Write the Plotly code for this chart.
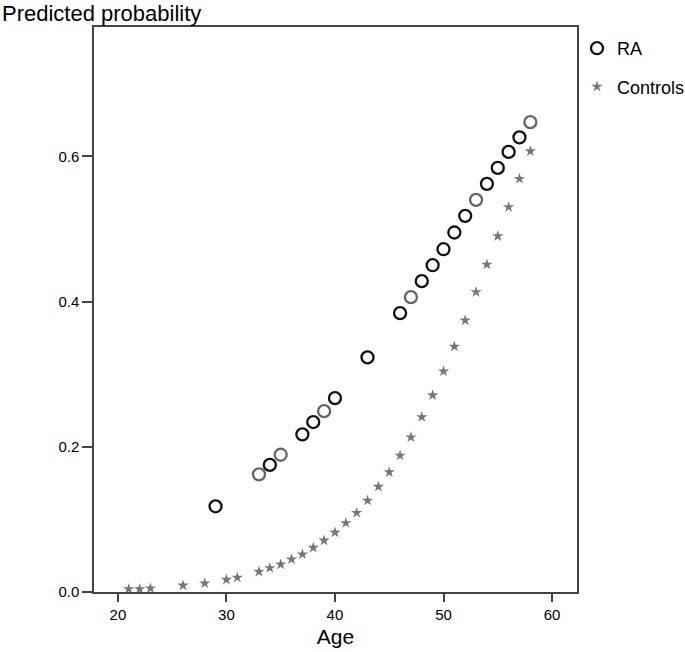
import plotly.graph_objects as go

# Data
ra_age = [29, 33, 34, 35, 37, 38, 39, 40, 43, 46, 47, 48, 49, 50, 51, 52, 53, 54, 55, 56, 57, 58]
ra_prob = [0.118, 0.162, 0.175, 0.189, 0.217, 0.234, 0.249, 0.267, 0.323, 0.384, 0.406, 0.428,
           0.450, 0.472, 0.495, 0.518, 0.540, 0.562, 0.584, 0.606, 0.626, 0.647]

ctrl_age = [21, 22, 23, 26, 28, 30, 31, 33, 34, 35, 36, 37, 38, 39, 40, 41, 42, 43, 44, 45,
            46, 47, 48, 49, 50, 51, 52, 53, 54, 55, 56, 57, 58]
ctrl_prob = [0.004, 0.004, 0.005, 0.009, 0.012, 0.017, 0.020, 0.028, 0.033, 0.038, 0.045, 0.052,
             0.061, 0.071, 0.082, 0.095, 0.109, 0.126, 0.145, 0.165, 0.188, 0.213, 0.241, 0.271,
             0.304, 0.338, 0.374, 0.413, 0.451, 0.490, 0.530, 0.569, 0.607]

x_ticks = [20, 30, 40, 50, 60]
y_ticks = [0.0, 0.2, 0.4, 0.6]
y_ticklabels = ["0.0", "0.2", "0.4", "0.6"]

# style: lighter outline for some circles (as in the reference rendering)
light_ages = {33, 35, 39, 47, 53, 58}
ra_line_colors = ["#666666" if a in light_ages else "#111111" for a in ra_age]

FONT = "Liberation Sans, Arial, Helvetica, sans-serif"
W, H = 685, 652
ML, MR, MT, MB = 94, 108, 27, 60
PW, PH = W - ML - MR, H - MT - MB

fig = go.Figure()
fig.add_trace(go.Scatter(
    x=ra_age, y=ra_prob, mode="markers", name="RA", legendgroup="ra",
    marker=dict(symbol="circle-open", size=12, color=ra_line_colors,
                line=dict(width=2.3, color=ra_line_colors)),
))
fig.add_trace(go.Scatter(
    x=ctrl_age, y=ctrl_prob, mode="markers", name="Controls", legendgroup="ctrl",
    marker=dict(symbol="star", size=8.5, color="#777777", line=dict(width=0)),
))

fig.update_layout(
    width=W, height=H,
    margin=dict(l=ML, r=MR, t=MT, b=MB, autoexpand=False),
    paper_bgcolor="white", plot_bgcolor="white",
    font=dict(family=FONT, color="black", size=15),
    showlegend=True,
    legend=dict(xref="container", yref="container", x=577 / W, y=1 - 30 / H,
                xanchor="left", yanchor="top",
                font=dict(size=18, family=FONT), bgcolor="rgba(0,0,0,0)",
                traceorder="grouped", tracegroupgap=12, itemwidth=30),
    xaxis=dict(range=[17.8, 62.3], tickvals=x_ticks, ticks="outside", ticklen=8,
               tickwidth=1.5, tickcolor="#444444", showline=True, linecolor="#444444",
               linewidth=1.5, mirror=True, showgrid=False, zeroline=False,
               tickfont=dict(size=15),
               title=dict(text="Age", font=dict(size=21), standoff=8)),
    yaxis=dict(range=[0, 0.778], tickvals=y_ticks, ticktext=y_ticklabels, ticks="outside",
               ticklen=10, tickwidth=1.5, tickcolor="#444444", showline=True,
               linecolor="#444444", linewidth=1.5, mirror=True, showgrid=False,
               zeroline=False, tickfont=dict(size=15)),
    annotations=[dict(text="Predicted probability", xref="paper", yref="paper",
                      x=-ML / PW, y=1 + MT / PH, xanchor="left", yanchor="top",
                      yshift=1, showarrow=False, font=dict(size=22, family=FONT))],
)

fig.write_html("out.html", config={"displayModeBar": False},
               post_script="document.body.style.margin='0';document.body.style.overflow='hidden';")
